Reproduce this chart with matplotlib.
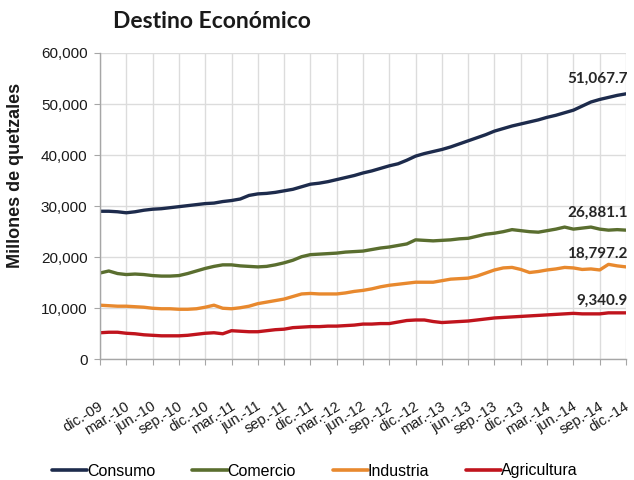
import matplotlib
matplotlib.use("Agg")
import matplotlib.pyplot as plt
import matplotlib.transforms as mtransforms
import numpy as np

# Monthly data, dic-09 .. dic-14 (millones de quetzales)
consumo = [29000, 29000, 28900, 28700, 28900, 29200, 29400, 29500, 29700, 29900,
           30100, 30300, 30500, 30600, 30900, 31100, 31400, 32100, 32400, 32500,
           32700, 33000, 33300, 33800, 34300, 34500, 34800, 35200, 35600, 36000,
           36500, 36900, 37400, 37900, 38300, 39000, 39800, 40300, 40700, 41100,
           41600, 42200, 42800, 43400, 44000, 44700, 45200, 45700, 46100, 46500,
           46900, 47400, 47800, 48300, 48800, 49600, 50400, 50900, 51300, 51700,
           52000]
comercio = [16900, 17300, 16800, 16600, 16700, 16600, 16400, 16300, 16300, 16400,
            16800, 17300, 17800, 18200, 18500, 18500, 18300, 18200, 18100, 18200,
            18500, 18900, 19400, 20100, 20500, 20600, 20700, 20800, 21000, 21100,
            21200, 21500, 21800, 22000, 22300, 22600, 23400, 23300, 23200, 23300,
            23400, 23600, 23700, 24100, 24500, 24700, 25000, 25400, 25200, 25000,
            24900, 25200, 25500, 25900, 25500, 25700, 25900, 25500, 25300, 25400,
            25300]
industria = [10600, 10500, 10400, 10400, 10300, 10200, 10000, 9900, 9900, 9800,
             9800, 9900, 10200, 10600, 10000, 9900, 10100, 10400, 10900, 11200,
             11500, 11800, 12300, 12800, 12900, 12800, 12800, 12800, 13000, 13300,
             13500, 13800, 14200, 14500, 14700, 14900, 15100, 15100, 15100, 15400,
             15700, 15800, 15900, 16300, 16900, 17500, 17900, 18000, 17600, 17000,
             17200, 17500, 17700, 18000, 17900, 17600, 17700, 17500, 18600, 18300,
             18100]
agricultura = [5200, 5300, 5300, 5100, 5000, 4800, 4700, 4600, 4600, 4600,
               4700, 4900, 5100, 5200, 5000, 5600, 5500, 5400, 5400, 5600,
               5800, 5900, 6200, 6300, 6400, 6400, 6500, 6500, 6600, 6700,
               6900, 6900, 7000, 7000, 7300, 7600, 7700, 7700, 7400, 7200,
               7300, 7400, 7500, 7700, 7900, 8100, 8200, 8300, 8400, 8500,
               8600, 8700, 8800, 8900, 9000, 8900, 8900, 8900, 9100, 9100,
               9100]

series_names = ["Consumo", "Comercio", "Industria", "Agricultura"]
end_labels = ["51,067.7", "26,881.1", "18,797.2", "9,340.9"]
tick_labels = ["dic.-09", "mar.-10", "jun.-10", "sep.-10", "dic.-10", "mar.-11",
               "jun.-11", "sep.-11", "dic.-11", "mar.-12", "jun.-12", "sep.-12",
               "dic.-12", "mar.-13", "jun.-13", "sep.-13", "dic.-13", "mar.-14",
               "jun.-14", "sep.-14", "dic.-14"]
y_ticks = [0, 10000, 20000, 30000, 40000, 50000, 60000]

colors = ["#1d2b4c", "#5a6e2f", "#e8892e", "#c0141d"]
label_offsets = [15, 17, 13, 12]

plt.rcParams['font.family'] = ['Liberation Sans', 'DejaVu Sans']

fig = plt.figure(figsize=(6.34, 4.8), dpi=100)
ax = fig.add_axes([100/634, 1 - 359.3/480, 526/634, (359.3 - 53)/480])

x = np.arange(len(consumo))
data = [consumo, comercio, industria, agricultura]
for vals, name, col in zip(data, series_names, colors):
    ax.plot(x, vals, color=col, lw=2.4, label=name, solid_capstyle='round')

for vals, lab, col, off in zip(data, end_labels, colors, label_offsets):
    ax.annotate(lab, xy=(x[-1], vals[-1]), xytext=(2, off),
                textcoords='offset pixels', ha='right', va='center',
                fontsize=11, fontweight='bold', family=['Lato', 'DejaVu Sans'],
                color='#262626')

ax.set_xlim(0, len(consumo) - 1)
ax.set_ylim(0, 60000)
ax.set_yticks(y_ticks)
ax.set_yticklabels([f"{v:,}" for v in y_ticks])
ax.set_xticks(np.arange(0, len(consumo), 3))
ax.set_xticklabels(tick_labels, rotation=32, rotation_mode='anchor',
                   ha='right', va='center')

ax.grid(True, color='#dcdcdc', lw=1)
ax.set_axisbelow(True)
for s in ['top', 'right']:
    ax.spines[s].set_visible(False)
for s in ['left', 'bottom']:
    ax.spines[s].set_color('#a6a6a6')
    ax.spines[s].set_linewidth(1)
ax.tick_params(axis='y', length=4, color='#a6a6a6', labelsize=11, pad=5,
               labelcolor='#1a1a1a')
ax.tick_params(axis='x', length=4, color='#a6a6a6', labelsize=10.5, pad=29,
               labelcolor='#1a1a1a')

offset = mtransforms.ScaledTranslation(1.5/72, 0, fig.dpi_scale_trans)
for lbl in ax.xaxis.get_majorticklabels():
    lbl.set_transform(lbl.get_transform() + offset)

ax.set_ylabel("Millones de quetzales", fontsize=13, fontweight='bold',
              color='#1a1a1a')
ax.yaxis.set_label_coords(-0.145, 0.60)

fig.text(113/634, 1 - 21/480, "Destino Económico", fontsize=16.5,
         fontweight='bold', family=['Lato', 'DejaVu Sans'], va='center',
         ha='left', color='#1a1a1a')

leg = fig.legend(loc='center', bbox_to_anchor=(315/634, 1 - 471/480), ncol=4,
                 frameon=False, fontsize=11.5, handlelength=2.2,
                 handletextpad=0.0, columnspacing=2.3)
for h in leg.get_lines():
    h.set_linewidth(2.6)

fig.savefig("out.png", dpi=100, facecolor='white')
